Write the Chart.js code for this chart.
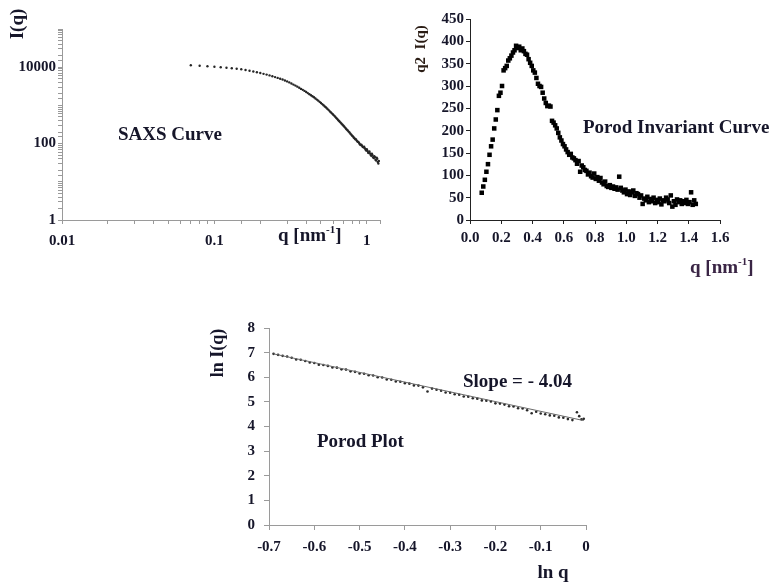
<!DOCTYPE html>
<html>
<head>
<meta charset="utf-8">
<script src="https://cdn.jsdelivr.net/npm/chart.js@4"></script>
<style>
  body { margin: 0; background: #fff; }
  #wrap { position: relative; width: 783px; height: 586px; overflow: hidden; }
  canvas { position: absolute; }
</style>
</head>
<body>
<div id="wrap">
  <canvas id="saxs" width="400" height="260" style="left:0px;top:0px"></canvas>
  <canvas id="inv" width="383" height="290" style="left:400px;top:0px"></canvas>
  <canvas id="porod" width="420" height="276" style="left:190px;top:310px"></canvas>
</div>
<script>
// SAXS curve, I(q) vs q (log-log)
const saxsQ = [0.07, 0.08, 0.09, 0.10, 0.11, 0.12, 0.13, 0.14, 0.15, 0.16, 0.17, 0.18, 0.19, 0.20,
  0.21, 0.22, 0.23, 0.24, 0.25, 0.26, 0.27, 0.28, 0.29, 0.30, 0.31, 0.32, 0.33, 0.34, 0.35, 0.36,
  0.37, 0.38, 0.39, 0.40, 0.41, 0.42, 0.43, 0.44, 0.45, 0.46, 0.47, 0.48, 0.49, 0.50, 0.51, 0.52,
  0.53, 0.54, 0.55, 0.56, 0.57, 0.58, 0.59, 0.60, 0.61, 0.62, 0.63, 0.64, 0.65, 0.66, 0.67, 0.68,
  0.69, 0.70, 0.71, 0.72, 0.73, 0.74, 0.75, 0.76, 0.77, 0.78, 0.79, 0.80, 0.81, 0.82, 0.83, 0.84,
  0.85, 0.86, 0.87, 0.88, 0.89, 0.90, 0.91, 0.92, 0.93, 0.94, 0.95, 0.96, 0.97, 0.98, 0.99, 1.00,
  1.01, 1.02, 1.03, 1.04, 1.05, 1.06, 1.07, 1.08, 1.09, 1.10, 1.11, 1.12, 1.13, 1.14, 1.15, 1.16,
  1.17, 1.18, 1.19, 1.20];
const saxsI = [11200, 10900, 10600, 10300, 10000, 9700, 9400, 9100, 8800, 8450, 8100, 7750, 7400, 7050,
  6700, 6400, 6100, 5800, 5500, 5250, 5000, 4750, 4500, 4250, 4000, 3750, 3500, 3300, 3100, 2900,
  2700, 2550, 2400, 2250, 2100, 1970, 1850, 1740, 1630, 1520, 1420, 1330, 1240, 1160, 1080, 1010,
  940, 880, 820, 765, 710, 665, 620, 580, 540, 505, 470, 440, 410, 385, 360, 338,
  315, 298, 280, 262, 245, 232, 220, 206, 195, 182, 172, 162, 155, 145, 138, 130,
  128, 118, 112, 110, 104, 96, 92, 93, 88, 82, 80, 83, 76, 70, 66, 71,
  64, 58, 57, 62, 55, 50, 48, 54, 50, 44, 42, 47, 44, 38, 36, 43,
  40, 33, 30, 35];
const saxsXLabels = [0.01, 0.1, 1];
const saxsYLabels = [1, 100, 10000];

// Porod invariant curve, q^2 I(q) vs q
const invQ = [0.075, 0.085, 0.095, 0.105, 0.115, 0.125, 0.135, 0.145, 0.155, 0.165, 0.175, 0.185, 0.195,
  0.205, 0.215, 0.225, 0.235, 0.245, 0.255, 0.265, 0.275, 0.285, 0.295, 0.305, 0.315, 0.325, 0.335, 0.345,
  0.355, 0.365, 0.375, 0.385, 0.395, 0.405, 0.415, 0.425, 0.435, 0.445, 0.455, 0.465, 0.475, 0.485, 0.495,
  0.505, 0.515, 0.525, 0.535, 0.545, 0.555, 0.565, 0.575, 0.585, 0.595, 0.605, 0.615, 0.625, 0.635, 0.645,
  0.655, 0.665, 0.675, 0.685, 0.695, 0.705, 0.715, 0.725, 0.735, 0.745, 0.755, 0.765, 0.775, 0.785, 0.795,
  0.805, 0.815, 0.825, 0.835, 0.845, 0.855, 0.865, 0.875, 0.885, 0.895, 0.905, 0.915, 0.925, 0.935, 0.945,
  0.955, 0.965, 0.975, 0.985, 0.995, 1.005, 1.015, 1.025, 1.035, 1.045, 1.055, 1.065, 1.075, 1.085, 1.095,
  1.105, 1.115, 1.125, 1.135, 1.145, 1.155, 1.165, 1.175, 1.185, 1.195, 1.205, 1.215, 1.225, 1.235, 1.245,
  1.255, 1.265, 1.275, 1.285, 1.295, 1.305, 1.315, 1.325, 1.335, 1.345, 1.355, 1.365, 1.375, 1.385, 1.395,
  1.405, 1.415, 1.425, 1.435, 1.445];
const invVal = [61, 75, 90, 108, 125, 146, 165, 180, 205, 225, 246, 278, 285,
  300, 335, 340, 345, 357, 362, 368, 375, 380, 390, 385, 388, 380, 384, 378,
  372, 370, 360, 352, 345, 335, 330, 318, 305, 300, 298, 285, 272, 262, 255,
  256, 254, 222, 218, 212, 205, 195, 185, 178, 170, 165, 158, 152, 146, 148,
  140, 138, 134, 126, 132, 108, 122, 118, 112, 110, 102, 106, 98, 95, 104,
  92, 96, 88, 94, 84, 80, 86, 76, 74, 78, 72, 75, 70, 73, 68,
  97, 72, 66, 62, 68, 58, 64, 56, 62, 66, 54, 60, 58, 50, 55,
  36, 48, 44, 52, 40, 47, 42, 50, 38, 45, 40, 48, 35, 44, 42,
  50, 46, 38, 55, 30, 42, 34, 46, 40, 44, 36, 42, 38, 45, 36,
  40, 62, 34, 44, 36];

// Porod plot, ln I(q) vs ln q
const porodLnQ = [-0.69, -0.68, -0.67, -0.66, -0.65, -0.64, -0.63, -0.62, -0.61, -0.60, -0.59, -0.58,
  -0.57, -0.56, -0.55, -0.54, -0.53, -0.52, -0.51, -0.50, -0.49, -0.48, -0.47, -0.46, -0.45, -0.44,
  -0.43, -0.42, -0.41, -0.40, -0.39, -0.38, -0.37, -0.36, -0.35, -0.34, -0.33, -0.32, -0.31, -0.30,
  -0.29, -0.28, -0.27, -0.26, -0.25, -0.24, -0.23, -0.22, -0.21, -0.20, -0.19, -0.18, -0.17, -0.16,
  -0.15, -0.14, -0.13, -0.12, -0.11, -0.10, -0.09, -0.08, -0.07, -0.06, -0.05, -0.04, -0.03, -0.02,
  -0.015, -0.01, -0.005];
const porodLnI = [6.95, 6.91, 6.87, 6.84, 6.79, 6.72, 6.71, 6.66, 6.60, 6.58, 6.51, 6.50,
  6.46, 6.40, 6.39, 6.32, 6.31, 6.24, 6.22, 6.15, 6.14, 6.08, 6.07, 6.00, 5.99, 5.91,
  5.90, 5.83, 5.82, 5.76, 5.74, 5.67, 5.66, 5.59, 5.42, 5.54, 5.49, 5.45, 5.38, 5.37,
  5.31, 5.29, 5.22, 5.21, 5.15, 5.13, 5.06, 5.05, 5.02, 4.94, 4.93, 4.89, 4.82, 4.81,
  4.74, 4.73, 4.66, 4.54, 4.60, 4.53, 4.50, 4.45, 4.44, 4.37, 4.36, 4.30, 4.26, 4.58,
  4.42, 4.29, 4.31];
const fitLnQ = [-0.69, -0.005];
const fitLnI = [6.95, 4.24];

const textColor = "#16162a";
const serif = '"Liberation Serif", "Times New Roman", serif';

function pts(xs, ys) {
  return xs.map((x, i) => ({ x: x, y: ys[i] }));
}

function decadeLabel(v, list) {
  for (const t of list) if (Math.abs(v - t) / t < 1e-6) return String(t);
  return "";
}

function drawNote(ctx, n) {
  ctx.save();
  ctx.translate(n.x, n.y);
  if (n.rotate) ctx.rotate(-Math.PI / 2);
  ctx.fillStyle = n.color || textColor;
  ctx.textBaseline = "middle";
  ctx.textAlign = "left";
  let parts = n.parts || [[n.text, false]];
  let w = 0;
  parts.forEach(p => {
    ctx.font = "bold " + (p[1] ? Math.round(n.size * 0.6) : n.size) + "px " + serif;
    w += ctx.measureText(p[0]).width;
  });
  let x = n.align === "center" ? -w / 2 : 0;
  parts.forEach(p => {
    ctx.font = "bold " + (p[1] ? Math.round(n.size * 0.6) : n.size) + "px " + serif;
    ctx.fillText(p[0], x, p[1] ? -n.size * 0.3 : 0);
    x += ctx.measureText(p[0]).width;
  });
  ctx.restore();
}

function notes(list) {
  return {
    id: "notes",
    afterDraw(chart) { list.forEach(n => drawNote(chart.ctx, n)); }
  };
}

function axisStyle(color, tickLen) {
  return {
    border: { color: color, width: 1 },
    grid: { drawOnChartArea: false, color: color, tickLength: tickLen }
  };
}

const tickFont = { family: serif, size: 15, weight: "bold" };
const commonOpts = {
  responsive: false,
  animation: false,
  devicePixelRatio: 1,
  plugins: { legend: { display: false }, tooltip: { enabled: false } }
};

// chart 1: SAXS curve
new Chart(document.getElementById("saxs"), {
  type: "scatter",
  data: {
    datasets: [{
      data: pts(saxsQ, saxsI),
      pointRadius: 1.2,
      pointBorderWidth: 0,
      backgroundColor: "#262626"
    }]
  },
  options: {
    ...commonOpts,
    layout: { padding: { left: 0, top: 29, right: 20, bottom: 0 } },
    scales: {
      x: {
        type: "logarithmic", min: 0.01, max: 1.22,
        ...axisStyle("#9a9a9a", 4),
        afterFit: s => { s.height = 40; },
        ticks: { autoSkip: false, maxRotation: 0, padding: 8, font: tickFont, color: textColor,
          callback: v => decadeLabel(v, saxsXLabels) }
      },
      y: {
        type: "logarithmic", min: 1, max: 100000,
        ...axisStyle("#9a9a9a", 4),
        afterFit: s => { s.width = 62; },
        ticks: { autoSkip: false, padding: 2, font: tickFont, color: textColor,
          callback: v => decadeLabel(v, saxsYLabels) }
      }
    }
  },
  plugins: [notes([
    { text: "I(q)", x: 18, y: 24, size: 19, rotate: true, align: "center" },
    { text: "SAXS Curve", x: 118, y: 135, size: 19 },
    { parts: [["q [nm", false], ["-1", true], ["]", false]], x: 278, y: 236, size: 19 }
  ])]
});

// chart 2: Porod invariant curve
new Chart(document.getElementById("inv"), {
  type: "scatter",
  data: {
    datasets: [{
      data: pts(invQ, invVal),
      pointStyle: "rect",
      pointRadius: 3.2,
      pointBorderWidth: 0,
      backgroundColor: "#000"
    }]
  },
  options: {
    ...commonOpts,
    layout: { padding: { left: 0, top: 19, right: 63, bottom: 0 } },
    scales: {
      x: {
        type: "linear", min: 0, max: 1.6,
        ...axisStyle("#222", 4),
        afterFit: s => { s.height = 70; },
        ticks: { stepSize: 0.2, autoSkip: false, maxRotation: 0, padding: 5, font: tickFont, color: textColor,
          callback: v => v.toFixed(1) }
      },
      y: {
        type: "linear", min: 0, max: 450,
        ...axisStyle("#222", 4),
        afterFit: s => { s.width = 70; },
        ticks: { stepSize: 50, autoSkip: false, padding: 2, font: tickFont, color: textColor }
      }
    }
  },
  plugins: [notes([
    { text: "q2  I(q)", x: 21, y: 49, size: 15, rotate: true, align: "center", color: "#2a1c14" },
    { text: "Porod Invariant Curve", x: 183, y: 128, size: 19 },
    { parts: [["q [nm", false], ["-1", true], ["]", false]], x: 290, y: 268, size: 19, color: "#3a2545" }
  ])]
});

// chart 3: Porod plot
new Chart(document.getElementById("porod"), {
  data: {
    datasets: [{
      type: "line",
      data: pts(fitLnQ, fitLnI),
      borderColor: "#6a6a6a",
      borderWidth: 1,
      pointRadius: 0
    }, {
      type: "scatter",
      data: pts(porodLnQ, porodLnI),
      pointRadius: 1.3,
      pointBorderWidth: 0,
      backgroundColor: "#2a2a2a"
    }]
  },
  options: {
    ...commonOpts,
    layout: { padding: { left: 0, top: 18, right: 24, bottom: 0 } },
    scales: {
      x: {
        type: "linear", min: -0.7, max: 0,
        ...axisStyle("#9a9a9a", 5),
        afterFit: s => { s.height = 61; },
        ticks: { stepSize: 0.1, autoSkip: false, maxRotation: 0, padding: 8, font: tickFont, color: textColor,
          callback: v => Math.abs(v) < 1e-9 ? "0" : v.toFixed(1) }
      },
      y: {
        type: "linear", min: 0, max: 8,
        ...axisStyle("#9a9a9a", 5),
        afterFit: s => { s.width = 79; },
        ticks: { stepSize: 1, autoSkip: false, padding: 9, font: tickFont, color: textColor }
      }
    }
  },
  plugins: [notes([
    { text: "ln I(q)", x: 28, y: 43, size: 18, rotate: true, align: "center" },
    { text: "Slope = - 4.04", x: 273, y: 72, size: 19 },
    { text: "Porod Plot", x: 127, y: 132, size: 19 },
    { text: "ln q", x: 363, y: 263, size: 19, align: "center" }
  ])]
});
</script>
</body>
</html>
